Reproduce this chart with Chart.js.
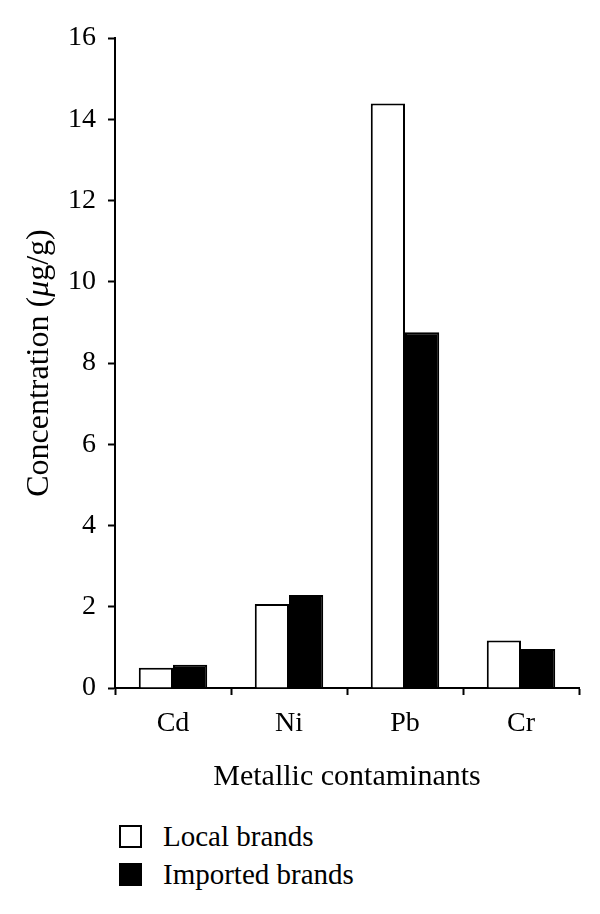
<!DOCTYPE html>
<html>
<head>
<meta charset="utf-8">
<script src="https://cdn.jsdelivr.net/npm/chart.js@4.4.0/dist/chart.umd.min.js"></script>
<style>
  body { margin: 0; background: #fff; }
  #wrap { position: relative; width: 600px; height: 914px; }
  #chartBox { position: absolute; left: 0; top: 0; width: 600px; height: 800px; }
  #legend { position: absolute; left: 119px; top: 817px; font-family: "Liberation Serif", serif; font-size: 29px; color: #000; }
  .leg-item { display: flex; align-items: center; height: 38px; }
  .leg-box { width: 23px; height: 23px; box-sizing: border-box; border: 2px solid #000; margin-right: 21px; }
</style>
</head>
<body>
<div id="wrap">
  <div id="chartBox"><canvas id="chart"></canvas></div>
  <div id="legend"></div>
</div>
<script>
// Datos
const categorias = ["Cd", "Ni", "Pb", "Cr"];
const marcasLocales = [0.50, 2.07, 14.39, 1.17];
const marcasImportadas = [0.57, 2.29, 8.76, 0.96];
const nombresSeries = ["Local brands", "Imported brands"];
const coloresSeries = ["#ffffff", "#000000"];

const fuente = "'Liberation Serif', serif";
const tamFuente = 28;

document.addEventListener("DOMContentLoaded", function () {
  crearGrafico();
  crearLeyenda();
});

// Titulo del eje Y con la letra griega en cursiva
const tituloEjeY = {
  id: "tituloEjeY",
  afterDraw(chart) {
    const ctx = chart.ctx;
    const area = chart.chartArea;
    const partes = [
      { t: "Concentration (", f: `32px ${fuente}` },
      { t: "\u03bc", f: `italic 32px ${fuente}` },
      { t: "g/g)", f: `32px ${fuente}` },
    ];
    let total = 0;
    partes.forEach((p) => {
      ctx.font = p.f;
      p.w = ctx.measureText(p.t).width;
      total += p.w;
    });
    ctx.save();
    ctx.translate(40, (area.top + area.bottom) / 2);
    ctx.rotate(-Math.PI / 2);
    ctx.fillStyle = "#000";
    ctx.textBaseline = "middle";
    ctx.textAlign = "left";
    let x = -total / 2;
    partes.forEach((p) => {
      ctx.font = p.f;
      ctx.fillText(p.t, x, 0);
      x += p.w;
    });
    ctx.restore();
  },
};

function crearGrafico() {
  const ctx = document.getElementById("chart").getContext("2d");

  new Chart(ctx, {
    type: "bar",
    data: {
      labels: categorias,
      datasets: [
        {
          label: nombresSeries[0],
          data: marcasLocales,
          backgroundColor: coloresSeries[0],
          borderColor: "#000",
          borderWidth: 2,
        },
        {
          label: nombresSeries[1],
          data: marcasImportadas,
          backgroundColor: coloresSeries[1],
          borderColor: "#000",
          borderWidth: 2,
        },
      ],
    },
    plugins: [tituloEjeY],
    options: {
      responsive: true,
      maintainAspectRatio: false,
      animation: false,
      layout: { padding: { top: 38, right: 21, bottom: 0, left: 0 } },
      datasets: { bar: { categoryPercentage: 0.59, barPercentage: 1.0 } },
      plugins: {
        legend: { display: false },
        tooltip: { enabled: false },
      },
      scales: {
        x: {
          offset: true,
          grid: {
            offset: true,
            drawOnChartArea: false,
            drawTicks: true,
            tickLength: 7,
            tickWidth: 2,
            tickColor: "#000",
          },
          border: { display: true, color: "#000", width: 2 },
          ticks: {
            color: "#000",
            padding: 12,
            font: { family: fuente, size: tamFuente },
          },
          title: {
            display: true,
            text: "Metallic contaminants",
            color: "#000",
            padding: { top: 0, bottom: 5 },
            font: { family: fuente, size: 30 },
          },
          afterFit: (scale) => { scale.height = 112; },
        },
        y: {
          min: 0,
          max: 16,
          ticks: {
            stepSize: 2,
            color: "#000",
            padding: 12,
            font: { family: fuente, size: tamFuente },
          },
          grid: {
            drawOnChartArea: false,
            drawTicks: true,
            tickLength: 7,
            tickWidth: 2,
            tickColor: "#000",
          },
          border: { display: true, color: "#000", width: 2 },
          afterFit: (scale) => { scale.width = 115; },
        },
      },
    },
  });
}

function crearLeyenda() {
  const cont = document.getElementById("legend");
  cont.innerHTML = nombresSeries
    .map((n, i) => `<div class="leg-item"><div class="leg-box" style="background:${coloresSeries[i]}"></div><span>${n}</span></div>`)
    .join("");
}
</script>
</body>
</html>
